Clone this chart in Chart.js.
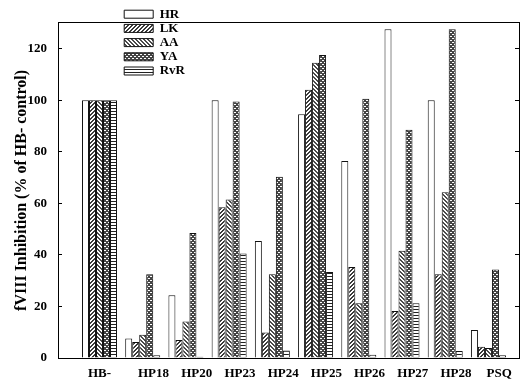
<!DOCTYPE html>
<html>
<head>
<meta charset="utf-8">
<script src="https://cdn.jsdelivr.net/npm/chart.js@4/dist/chart.umd.min.js"></script>
<style>
  html, body { margin: 0; padding: 0; background: #fff; }
  #chart { display: block; }
</style>
</head>
<body>
<canvas id="chart" width="520" height="382"></canvas>
<script>
const peptides = ['HB-', 'HP18', 'HP20', 'HP23', 'HP24', 'HP25', 'HP26', 'HP27', 'HP28', 'PSQ'];
const seriesNames = ['HR', 'LK', 'AA', 'YA', 'RvR'];
const hr  = [100, 7.6, 24.3, 100, 45.4, 94.5, 76.4, 127.5, 100, 10.9];
const lk  = [100, 6.2, 7.0, 58.5, 9.9, 104, 35.3, 18.2, 32.5, 4.4];
const aa  = [100, 9.0, 14.2, 61.5, 32.5, 114.5, 21.2, 41.6, 64.3, 3.9];
const ya  = [100, 32.5, 48.5, 99.5, 70.3, 117.5, 100.5, 88.5, 127.5, 34.3];
const rvr = [100, 1.1, 0.5, 40.5, 2.9, 33.4, 1.3, 21.2, 2.7, 1.1];
const yTicks = [0, 20, 40, 60, 80, 100, 120];

const canvas = document.getElementById('chart');
const ctx = canvas.getContext('2d');

// little pixel tiles for the hatch fills
function hatch(size, ink, color) {
  const c = document.createElement('canvas');
  c.width = c.height = size;
  const g = c.getContext('2d');
  g.fillStyle = '#fff';
  g.fillRect(0, 0, size, size);
  g.fillStyle = color;
  for (let y = 0; y < size; y++) {
    for (let x = 0; x < size; x++) {
      if (ink(x, y)) g.fillRect(x, y, 1, 1);
    }
  }
  return ctx.createPattern(c, 'repeat');
}

const fills = [
  '#fff',
  hatch(4, (x, y) => (x + y) % 4 < 2, '#3a3a3a'),
  hatch(4, (x, y) => (x - y + 4) % 4 < 2, '#4a4a4a'),
  hatch(4, (x, y) => (x + y) % 4 < 2 || (x - y + 4) % 4 < 2, '#444'),
  hatch(3, (x, y) => y === 0, '#222')
];
const values = [hr, lk, aa, ya, rvr];

Chart.defaults.font.family = "'Liberation Serif', 'DejaVu Serif', serif";
Chart.defaults.font.weight = 'bold';
Chart.defaults.font.size = 13;
Chart.defaults.color = '#000';

const datasets = seriesNames.map((name, k) => ({
  label: name,
  data: values[k].map((v, i) => ({ x: i, y: v })),
  backgroundColor: fills[k],
  borderColor: '#111',
  borderWidth: 1,
  categoryPercentage: 0.81,
  barPercentage: 1.0
}));

// labels sit a bit right of their bar groups in the original
const labelShift = 0.25;

const legendSpot = {
  id: 'legendSpot',
  afterLayout(chart) {
    chart.legend.left = 123;
    chart.legend.top = 6.5;
  }
};

new Chart(canvas, {
  type: 'bar',
  data: { datasets: datasets },
  plugins: [legendSpot],
  options: {
    responsive: false,
    animation: false,
    devicePixelRatio: 1,
    layout: { padding: 0 },
    plugins: {
      tooltip: { enabled: false },
      legend: {
        position: 'chartArea',
        align: 'start',
        labels: {
          boxWidth: 29,
          boxHeight: 8,
          padding: 1.2,
          font: { size: 13, weight: 'bold' }
        }
      }
    },
    scales: {
      x: {
        type: 'linear',
        min: -0.96,
        max: 9.707,
        bounds: 'data',
        offset: false,
        grid: { display: false, drawTicks: false },
        border: { color: '#000' },
        ticks: {
          autoSkip: false,
          maxRotation: 0,
          padding: 8,
          callback: (v, i) => peptides[i]
        },
        afterBuildTicks: s => {
          s.ticks = peptides.map((p, i) => ({ value: i + (i ? labelShift : 0) }));
        },
        afterFit: s => { s.height = 24; }
      },
      x2: {
        type: 'linear',
        position: 'top',
        grid: { display: false },
        ticks: { display: false },
        border: { color: '#000' },
        afterFit: s => { s.height = 2; }
      },
      y: {
        type: 'linear',
        min: 0,
        max: 130,
        bounds: 'data',
        grid: { drawOnChartArea: false, tickLength: -4, color: '#000' },
        border: { color: '#000' },
        ticks: { padding: 15 },
        afterBuildTicks: s => { s.ticks = yTicks.map(v => ({ value: v })); },
        title: {
          display: true,
          text: 'fVIII Inhibition (% of HB- control)',
          font: { size: 16, weight: 'bold' },
          padding: { top: 12, bottom: 0 }
        },
        afterFit: s => { s.width = 58; }
      },
      y2: {
        type: 'linear',
        position: 'right',
        min: 0,
        max: 130,
        bounds: 'data',
        grid: { drawOnChartArea: false, tickLength: -4, color: '#000' },
        border: { color: '#000' },
        ticks: { display: false },
        afterBuildTicks: s => { s.ticks = yTicks.map(v => ({ value: v })); },
        afterFit: s => { s.width = 1; }
      }
    }
  }
});
</script>
</body>
</html>
